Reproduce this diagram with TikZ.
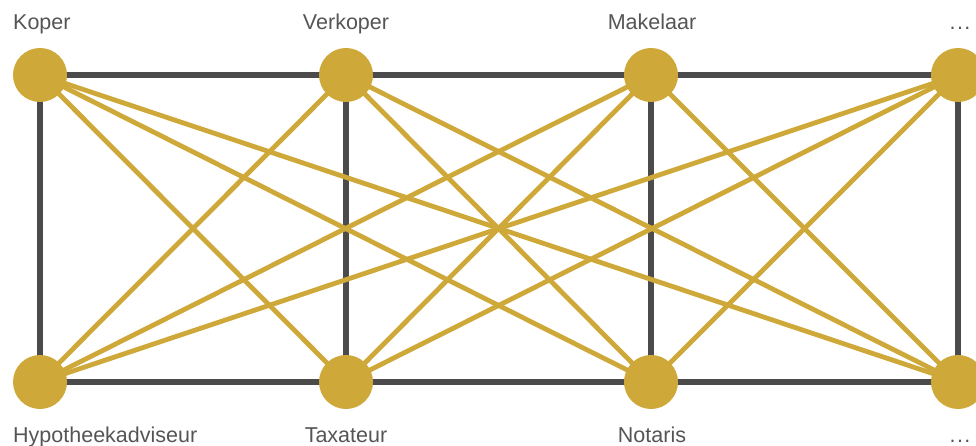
\documentclass[tikz,border=0pt]{standalone}
\usepackage{fontspec}
\setmainfont{Liberation Sans}
\definecolor{gold}{HTML}{CEA838}
\definecolor{darkline}{HTML}{4B4B4B}
\definecolor{labelgray}{HTML}{555555}
\tikzset{
  party/.style={circle, fill=gold, minimum size=54pt, inner sep=0pt},
  frame/.style={draw=darkline, line width=5.5pt},
  link/.style={draw=gold, line width=4.8pt},
  lbl/.style={text=labelgray, font=\fontsize{21.5}{25}\selectfont, inner sep=0pt, anchor=base}
}
\begin{document}
\begin{tikzpicture}[x=1pt,y=-1pt]
\useasboundingbox (0,0) rectangle (976,446);
\begin{scope}
\clip (0,0) rectangle (976,446);
% node positions
\coordinate (t1) at (40,75);
\coordinate (t2) at (346,75);
\coordinate (t3) at (651,75);
\coordinate (t4) at (958,75);
\coordinate (b1) at (40,382);
\coordinate (b2) at (346,382);
\coordinate (b3) at (651,382);
\coordinate (b4) at (958,382);
% outer frame and verticals
\draw[frame] (t1) -- (t2) -- (t3) -- (t4);
\draw[frame] (b1) -- (b2) -- (b3) -- (b4);
\foreach \i in {1,2,3,4} \draw[frame] (t\i) -- (b\i);
% cross links between every pair of different columns
\foreach \i/\j in {1/2,1/3,1/4,2/1,2/3,2/4,3/1,3/2,3/4,4/1,4/2,4/3}
  \draw[link] (t\i) -- (b\j);
% parties
\foreach \p in {t1,t2,t3,t4,b1,b2,b3,b4}
  \node[party] (n\p) at (\p) {};
\end{scope}
% labels
\node[lbl, anchor=base west] (lkoper) at (13,30) {Koper};
\node[lbl] (lverkoper) at (346,30) {Verkoper};
\node[lbl] (lmakelaar) at (652,30) {Makelaar};
\node[lbl] (ldots1) at (960,30) {.\kern1.5pt.\kern1.5pt.};
\node[lbl, anchor=base west] (lhypo) at (13,442) {Hypotheekadviseur};
\node[lbl] (ltaxateur) at (346,442) {Taxateur};
\node[lbl] (lnotaris) at (652,442) {Notaris};
\node[lbl] (ldots2) at (960,442) {.\kern1.5pt.\kern1.5pt.};
\end{tikzpicture}
\end{document}
